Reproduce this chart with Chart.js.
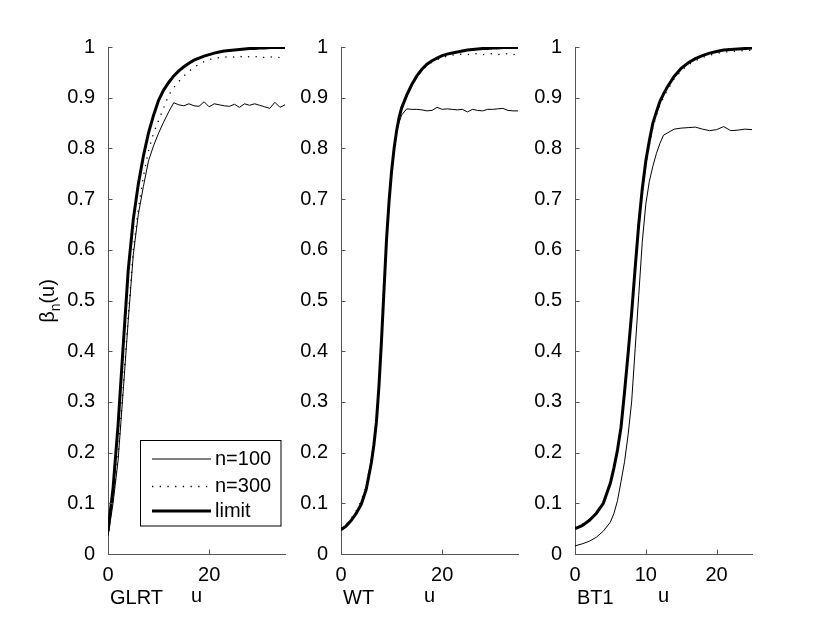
<!DOCTYPE html>
<html><head><meta charset="utf-8">
<script src="https://cdn.jsdelivr.net/npm/chart.js@4.4.1/dist/chart.umd.min.js"></script>
<style>
html,body{margin:0;padding:0;background:#fff;}
#wrap{position:relative;width:830px;height:625px;overflow:hidden;background:#fff;}
canvas{position:absolute;top:0;left:0;}
</style></head><body>
<div id="wrap">
<canvas id="c1" width="830" height="625"></canvas>
<canvas id="c2" width="830" height="625"></canvas>
<canvas id="c3" width="830" height="625"></canvas>
</div>
<script>
// ---------- data ----------
const seriesLabels = ['n=100', 'n=300', 'limit'];
const panelNames = ['GLRT', 'WT', 'BT1'];
const yTicks = [0, 0.1, 0.2, 0.3, 0.4, 0.5, 0.6, 0.7, 0.8, 0.9, 1];

// GLRT panel
const glrtU = [0,1,2,3,4,5,6,7,8,9,10,11,12,13,14,15,16,17,18,19,20,21,22,23,24,25,26,27,28,29,30,31,32,33,34,35];
const glrtN100 = [0.035,0.10,0.185,0.32,0.46,0.59,0.67,0.725,0.775,0.805,0.83,0.852,0.872,0.89,0.886,0.884,0.888,0.884,0.883,0.892,0.882,0.888,0.886,0.884,0.883,0.887,0.881,0.888,0.885,0.888,0.885,0.882,0.879,0.891,0.881,0.886];
const glrtN300 = [0.04,0.11,0.195,0.33,0.47,0.6,0.68,0.745,0.795,0.83,0.855,0.88,0.905,0.92,0.932,0.943,0.952,0.96,0.966,0.971,0.975,0.978,0.979,0.98,0.981,0.98,0.982,0.979,0.981,0.98,0.982,0.979,0.98,0.981,0.979,0.98];
const glrtLimit = [0.045,0.13,0.255,0.41,0.56,0.66,0.73,0.785,0.83,0.865,0.895,0.915,0.93,0.943,0.953,0.961,0.968,0.974,0.978,0.982,0.985,0.988,0.99,0.992,0.993,0.994,0.995,0.996,0.997,0.997,0.998,0.998,0.999,0.999,0.999,0.999];
const glrtXTicks = [0, 20];

// WT panel
const wtU = [0,1,2,3,4,5,6,6.5,7,7.5,8,8.5,9,9.5,10,10.5,11,11.5,12,13,14,15,16,17,18,19,20,21,22,23,24,25,26,27,28,29,30,31,32,33,34,35];
const wtN100 = [0.047,0.054,0.065,0.079,0.097,0.127,0.178,0.213,0.258,0.328,0.42,0.52,0.62,0.695,0.755,0.8,0.833,0.852,0.866,0.878,0.877,0.877,0.876,0.874,0.875,0.881,0.877,0.878,0.877,0.876,0.877,0.872,0.877,0.875,0.874,0.877,0.877,0.878,0.879,0.875,0.874,0.874];
const wtN300 = [0.05,0.058,0.07,0.085,0.105,0.135,0.188,0.222,0.265,0.335,0.425,0.52,0.615,0.69,0.75,0.795,0.832,0.86,0.878,0.903,0.924,0.941,0.954,0.963,0.97,0.975,0.979,0.982,0.984,0.985,0.986,0.985,0.986,0.987,0.985,0.986,0.987,0.985,0.986,0.987,0.985,0.986];
const wtLimit = [0.048,0.055,0.066,0.08,0.098,0.128,0.18,0.215,0.26,0.33,0.42,0.52,0.62,0.695,0.755,0.8,0.835,0.862,0.88,0.905,0.926,0.943,0.956,0.966,0.973,0.978,0.983,0.986,0.988,0.99,0.992,0.994,0.995,0.996,0.997,0.997,0.998,0.998,0.999,0.999,0.999,0.999];
const wtXTicks = [0, 20];

// BT1 panel
const bt1U = [0,1,2,3,4,5,5.5,6,6.5,7,7.5,8,8.5,9,9.5,10,10.5,11,11.5,12,12.5,13,14,15,16,17,18,19,20,21,22,23,24,25];
const bt1N100 = [0.016,0.02,0.025,0.033,0.045,0.063,0.08,0.105,0.143,0.182,0.235,0.3,0.405,0.51,0.615,0.69,0.735,0.765,0.79,0.81,0.826,0.83,0.838,0.84,0.841,0.842,0.838,0.835,0.837,0.843,0.835,0.836,0.838,0.837];
const bt1N300 = [0.052,0.058,0.068,0.082,0.103,0.143,0.172,0.207,0.252,0.32,0.393,0.472,0.56,0.643,0.712,0.767,0.807,0.842,0.865,0.886,0.9,0.914,0.937,0.953,0.965,0.973,0.979,0.984,0.987,0.99,0.991,0.992,0.993,0.994];
const bt1Limit = [0.05,0.056,0.066,0.08,0.1,0.14,0.17,0.205,0.25,0.32,0.395,0.475,0.565,0.65,0.72,0.775,0.815,0.85,0.872,0.893,0.907,0.92,0.942,0.958,0.969,0.977,0.983,0.988,0.991,0.994,0.995,0.996,0.997,0.998];
const bt1XTicks = [0, 10, 20];

// ---------- style ----------
const FONT = "'Liberation Sans', Arial, Helvetica, sans-serif";
const FS = 20;
const AXIS = '#555555';
Chart.defaults.font.family = FONT;
Chart.defaults.font.size = FS;
Chart.defaults.color = '#000';

const styles = [
  {borderWidth: 1, borderDash: []},
  {borderWidth: 1.3, borderDash: [1.3, 6.4]},
  {borderWidth: 3, borderDash: []}
];

const decor = {
  id: 'decor',
  afterDraw(chart, args, opts) {
    const ctx = chart.ctx, a = chart.chartArea;
    const xs = chart.scales.x, ys = chart.scales.y;
    ctx.save();
    // inward tick marks
    ctx.strokeStyle = AXIS; ctx.lineWidth = 1; ctx.setLineDash([]);
    ctx.beginPath();
    xs.ticks.forEach(t => {
      const px = Math.round(xs.getPixelForValue(t.value)) + 0.5;
      ctx.moveTo(px, a.bottom); ctx.lineTo(px, a.bottom - 4.5);
    });
    ys.ticks.forEach(t => {
      const py = Math.round(ys.getPixelForValue(t.value)) + 0.5;
      ctx.moveTo(a.left, py); ctx.lineTo(a.left + 4.5, py);
    });
    ctx.stroke();
    // panel name under axis
    ctx.fillStyle = '#000';
    ctx.font = FS + 'px ' + FONT;
    ctx.textAlign = 'left'; ctx.textBaseline = 'alphabetic';
    ctx.fillText(opts.name, a.left + 2, 604);
    // y title
    if (opts.yTitle) {
      ctx.save();
      ctx.translate(54, 301);
      ctx.rotate(-Math.PI / 2);
      const big = FS + 'px ' + FONT, small = '14px ' + FONT;
      ctx.font = big; const w1 = ctx.measureText('\u03b2').width;
      const w3 = ctx.measureText('(u)').width;
      ctx.font = small; const w2 = ctx.measureText('n').width;
      let x = -(w1 + w2 + w3) / 2;
      ctx.font = big; ctx.fillText('\u03b2', x, 0); x += w1;
      ctx.font = small; ctx.fillText('n', x, 6); x += w2;
      ctx.font = big; ctx.fillText('(u)', x, 0);
      ctx.restore();
    }
    // legend
    if (opts.legend) {
      const L = a.right - 145, T = a.bottom - 114, W = 140.5, H = 85.5;
      ctx.fillStyle = '#fff';
      ctx.fillRect(L, T, W, H);
      ctx.strokeStyle = '#000'; ctx.lineWidth = 1;
      ctx.strokeRect(Math.round(L) + 0.5, Math.round(T) + 0.5, W, H);
      const rows = [19, 46.5, 71];
      chart.data.datasets.forEach((ds, i) => {
        const y = T + rows[i];
        ctx.beginPath();
        ctx.strokeStyle = ds.borderColor;
        ctx.lineWidth = ds.borderWidth;
        ctx.setLineDash(ds.borderDash || []);
        ctx.moveTo(L + 12, y); ctx.lineTo(L + 71, y);
        ctx.stroke();
        ctx.setLineDash([]);
        ctx.fillStyle = '#000';
        ctx.font = FS + 'px ' + FONT;
        ctx.textBaseline = 'middle';
        ctx.fillText(ds.label, L + 75, y);
      });
    }
    ctx.restore();
  }
};

function makePanel(id, u, series, xTicks, xMax, name, yAxisWidth, padLeft, padRight, first) {
  const datasets = series.map((vals, i) => ({
    label: seriesLabels[i],
    data: u.map((x, k) => ({x: x, y: vals[k]})),
    borderColor: '#000',
    borderWidth: styles[i].borderWidth,
    borderDash: styles[i].borderDash,
    pointRadius: 0,
    fill: false,
    tension: 0
  }));
  return new Chart(document.getElementById(id), {
    type: 'line',
    data: {datasets},
    plugins: [decor],
    options: {
      responsive: false,
      animation: false,
      events: [],
      layout: {padding: {top: 47, bottom: 0, left: padLeft, right: padRight}},
      plugins: {
        legend: {display: false},
        tooltip: {enabled: false},
        decor: {name: name, yTitle: first, legend: first}
      },
      scales: {
        x: {
          type: 'linear', min: 0, max: xMax,
          afterBuildTicks: s => { s.ticks = xTicks.map(v => ({value: v})); },
          afterFit: s => { s.height = 71; },
          grid: {display: false},
          border: {display: true, color: AXIS, width: 1},
          ticks: {padding: 1, maxRotation: 0, autoSkip: false, color: '#000'},
          title: {display: true, text: 'u', color: '#000', font: {size: FS}, padding: {top: 0, bottom: 17}}
        },
        y: {
          type: 'linear', min: 0, max: 1,
          afterBuildTicks: s => { s.ticks = yTicks.map(v => ({value: v})); },
          afterFit: s => { s.width = yAxisWidth; },
          grid: {display: false},
          border: {display: true, color: AXIS, width: 1},
          ticks: {padding: 5, autoSkip: false, color: '#000', callback: v => String(Math.round(v * 10) / 10)}
        }
      }
    }
  });
}

makePanel('c1', glrtU, [glrtN100, glrtN300, glrtLimit], glrtXTicks, 35, panelNames[0], 108, 0, 545, true);
makePanel('c2', wtU, [wtN100, wtN300, wtLimit], wtXTicks, 35, panelNames[1], 45, 296, 312, false);
makePanel('c3', bt1U, [bt1N100, bt1N300, bt1Limit], bt1XTicks, 25, panelNames[2], 45, 530, 78, false);
</script>
</body></html>
